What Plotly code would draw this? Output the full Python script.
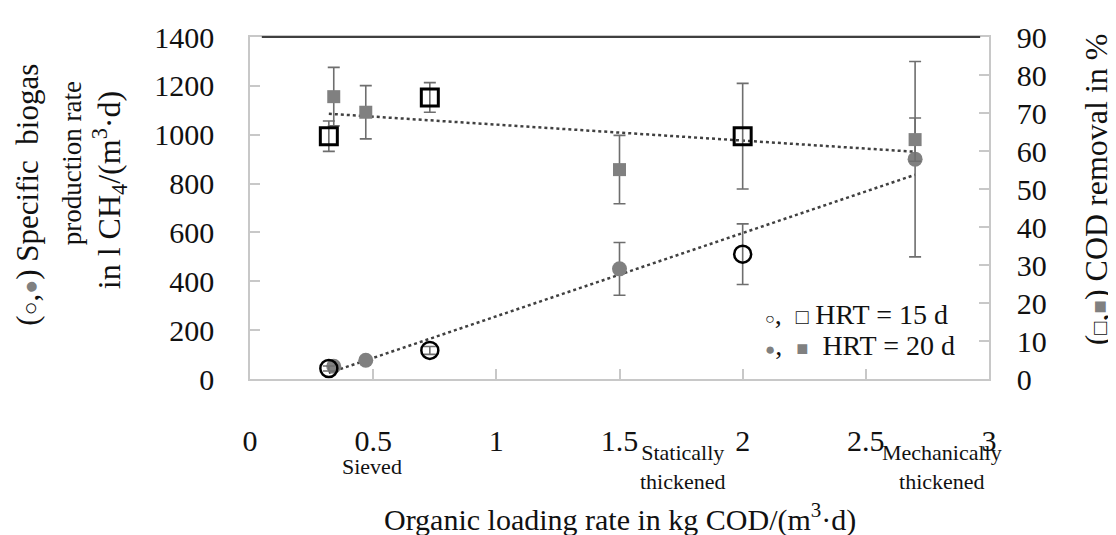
import plotly.graph_objects as go

# ---------------- data ----------------
olr_15 = [0.32, 0.73, 2.0]
biogas_15 = [43, 117, 511]
biogas_15_err = [10, 16, 124]
cod_15 = [63.9, 74.1, 63.9]
cod_15_err = [4.0, 3.9, 13.9]

olr_20 = [0.34, 0.47, 1.5, 2.7]
biogas_20 = [52, 77, 451, 900]
biogas_20_err = [0, 0, 108, 400]
cod_20 = [74.3, 70.2, 55.1, 63.0]
cod_20_err = [7.7, 7.0, 9.0, 5.7]

trend_x = [0.32, 2.7]
trend_biogas = [25, 836]
trend_cod = [69.8, 59.8]

substrate_labels = ["Sieved", "Statically<br>thickened", "Mechanically<br>thickened"]
substrate_x = [0.495, 1.757, 2.81]

FONT = "Liberation Serif"
GRAY = "#808080"
ERR = "#6e6e6e"
FRAME = "#c8c8c8"
TXT = "#111"

fig = go.Figure()

# trend lines
fig.add_trace(go.Scatter(x=trend_x, y=trend_cod, yaxis="y2", mode="lines",
                         line=dict(color="#404040", width=2.5, dash="dot"), showlegend=False))
fig.add_trace(go.Scatter(x=trend_x, y=trend_biogas, mode="lines",
                         line=dict(color="#404040", width=2.5, dash="dot"), showlegend=False))

# COD removal (right axis)
fig.add_trace(go.Scatter(x=olr_20, y=cod_20, yaxis="y2", mode="markers",
                         marker=dict(symbol="square", size=13, color=GRAY),
                         error_y=dict(type="data", array=cod_20_err, color=ERR, thickness=1.6, width=6),
                         showlegend=False))
fig.add_trace(go.Scatter(x=olr_15, y=cod_15, yaxis="y2", mode="markers",
                         marker=dict(symbol="square-open", size=17, color="black", line=dict(width=3)),
                         error_y=dict(type="data", array=cod_15_err, color=ERR, thickness=1.6, width=6),
                         showlegend=False))

# biogas (left axis)
fig.add_trace(go.Scatter(x=olr_20, y=biogas_20, mode="markers",
                         marker=dict(symbol="circle", size=15, color=GRAY),
                         error_y=dict(type="data", array=biogas_20_err, color=ERR, thickness=1.6, width=6),
                         showlegend=False))
fig.add_trace(go.Scatter(x=olr_15, y=biogas_15, mode="markers",
                         marker=dict(symbol="circle-open", size=17, color="black", line=dict(width=2.5)),
                         error_y=dict(type="data", array=biogas_15_err, color=ERR, thickness=1.6, width=6),
                         showlegend=False))

tickfont = dict(family=FONT, size=30, color=TXT)

fig.update_layout(
    width=1108, height=527,
    margin=dict(l=242, r=127, t=24, b=156),
    paper_bgcolor="white", plot_bgcolor="white",
    font=dict(family=FONT, color=TXT),
    xaxis=dict(range=[0, 3], dtick=0.5, tick0=0, showgrid=False, zeroline=False,
               showline=True, linecolor=FRAME, linewidth=1.5, mirror=True,
               ticks="inside", ticklen=10, tickcolor=FRAME, tickwidth=1.5,
               tickfont=tickfont, ticklabelstandoff=34),
    yaxis=dict(range=[0, 1400], dtick=200, showgrid=False, zeroline=False,
               showline=True, linecolor=FRAME, linewidth=1.5,
               ticks="inside", ticklen=10, tickcolor=FRAME, tickwidth=1.5,
               tickfont=tickfont, ticklabelstandoff=28),
    yaxis2=dict(range=[0, 90], dtick=10, overlaying="y", side="right", showgrid=False, zeroline=False,
                showline=True, linecolor=FRAME, linewidth=1.5,
                ticks="inside", ticklen=10, tickcolor=FRAME, tickwidth=1.5,
                tickfont=tickfont, ticklabelstandoff=20),
)

# darker top frame line
fig.add_shape(type="line", xref="paper", yref="paper", x0=0.016, x1=0.988, y0=1, y1=1,
              line=dict(color="#404040", width=2))

NB = "\u00a0"
def s(ch, size, color=None):
    st = "font-size:%dpx" % size
    if color:
        st += ";color:" + color
    return '<span style="%s">%s</span>' % (st, ch)

left_title_lines = ["(" + s("○", 23) + "," + s("●", 23, GRAY) + ") Specific" + NB + NB + "biogas",
                    "production rate",
                    "in l CH<sub>4</sub>/(m<sup>3</sup>·d)"]
left_title_sizes = [31, 27, 32]
left_title_x = [-0.3004, -0.2409, -0.1908]
left_title_y = [0.539, 0.631, 0.552]

annotations = []
for t, fs, xx, yy in zip(left_title_lines, left_title_sizes, left_title_x, left_title_y):
    annotations.append(dict(text=t, xref="paper", yref="paper", x=xx, y=yy,
                            xanchor="center", yanchor="middle", textangle=-90,
                            showarrow=False, font=dict(family=FONT, size=fs, color=TXT)))
annotations += [
    dict(text="(" + s("□", 22) + "," + s("■", 22, GRAY) + ") COD removal in %",
         xref="paper", yref="paper", x=1.145, y=0.555, xanchor="center", yanchor="middle",
         textangle=-90, showarrow=False, font=dict(family=FONT, size=32, color=TXT)),
    dict(text="Organic loading rate in kg COD/(m<sup>3</sup>·d)",
         xref="paper", yref="paper", x=0.5, y=-0.406, xanchor="center", yanchor="middle",
         showarrow=False, font=dict(family=FONT, size=30, color=TXT)),
    dict(text=s("○", 16) + "," + NB + NB + s("□", 21) + NB + "HRT = 15 d",
         xref="paper", yref="paper", x=0.694, y=0.19, xanchor="left", yanchor="middle",
         showarrow=False, font=dict(family=FONT, size=28, color=TXT)),
    dict(text=s("●", 17, GRAY) + "," + NB + NB + s("■", 20, GRAY) + NB + NB + "HRT = 20 d",
         xref="paper", yref="paper", x=0.694, y=0.098, xanchor="left", yanchor="middle",
         showarrow=False, font=dict(family=FONT, size=28, color=TXT)),
]
for lab, xv in zip(substrate_labels, substrate_x):
    annotations.append(dict(text=lab, xref="x", yref="paper", x=xv, y=-0.256, xanchor="center",
                            yanchor="middle", showarrow=False,
                            font=dict(family=FONT, size=22, color=TXT)))
fig.update_layout(annotations=annotations)

fig.write_html("out.html")
